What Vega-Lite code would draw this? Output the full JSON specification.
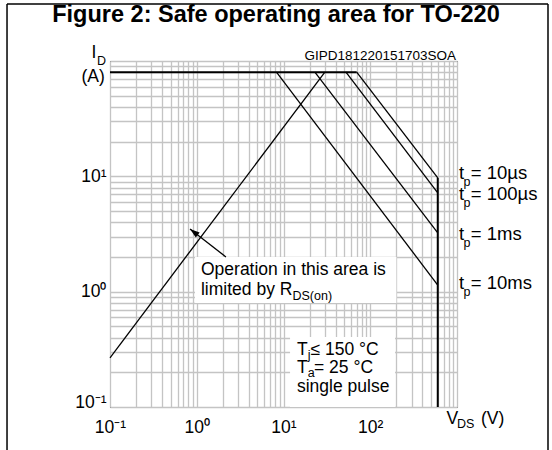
{
  "$schema": "https://vega.github.io/schema/vega-lite/v6.json",
  "width": 347,
  "height": 346,
  "autosize": {"type": "none"},
  "padding": {"left": 110, "top": 61, "right": 95, "bottom": 43},
  "background": "white",
  "datasets": {
    "curves": [
      {"series": "RDS(on)", "x": 0.1, "y": 0.267},
      {"series": "RDS(on)", "x": 30, "y": 80},
      {"series": "10ms", "x": 8.3, "y": 80},
      {"series": "10ms", "x": 600, "y": 1.14},
      {"series": "1ms", "x": 23, "y": 80},
      {"series": "1ms", "x": 600, "y": 3.23},
      {"series": "100µs", "x": 52.5, "y": 80},
      {"series": "100µs", "x": 600, "y": 7.18},
      {"series": "10µs", "x": 69.8, "y": 80},
      {"series": "10µs", "x": 600, "y": 9.7}
    ],
    "limits": [
      {"series": "ID max", "x": 0.1, "y": 80},
      {"series": "ID max", "x": 69.8, "y": 80},
      {"series": "VDS max", "x": 600, "y": 0.1},
      {"series": "VDS max", "x": 600, "y": 9.7}
    ],
    "boxes": [
      {"x": 0.955, "x2": 200, "y": 2.0, "y2": 0.798},
      {"x": 11.9, "x2": 193, "y": 0.405, "y2": 0.1}
    ],
    "arrow": [{"x": 2.17, "y": 2.0, "x2": 0.836, "y2": 3.49}],
    "arrowhead": [{"x": 0.836, "y": 3.49}],
    "frame": [
      {"x": 0.0065, "y": 312, "x2": 0.0065, "y2": 0.03},
      {"x": 0.0065, "y": 312, "x2": 11194, "y2": 312},
      {"x": 11194, "y": 312, "x2": 11194, "y2": 0.03}
    ],
    "heading": [{"x": 8.19, "y": 217.8, "text": "Figure 2: Safe operating area for TO-220"}],
    "maintext": [
      {"x": 0.0612, "y": 106.2, "text": "I"},
      {"x": 0.0469, "y": 65.8, "text": "(A)"},
      {"x": 757, "y": 0.0712, "text": "V"},
      {"x": 1891, "y": 0.0712, "text": "(V)"},
      {"x": 1.119, "y": 1.395, "text": "Operation in this area is"},
      {"x": 1.119, "y": 0.936, "text": "limited by R"},
      {"x": 14.3, "y": 0.2824, "text": "T"},
      {"x": 20.48, "y": 0.2824, "text": "≤ 150 °C"},
      {"x": 14.3, "y": 0.1971, "text": "T"},
      {"x": 22.47, "y": 0.1971, "text": "= 25 °C"},
      {"x": 14.3, "y": 0.1349, "text": "single pulse"}
    ],
    "pulsetext": [
      {"x": 1055, "y": 9.48, "text": "t"},
      {"x": 1442, "y": 9.48, "text": "= 10µs"},
      {"x": 1055, "y": 6.24, "text": "t"},
      {"x": 1442, "y": 6.24, "text": "= 100µs"},
      {"x": 1055, "y": 2.81, "text": "t"},
      {"x": 1442, "y": 2.81, "text": "= 1ms"},
      {"x": 1055, "y": 1.055, "text": "t"},
      {"x": 1442, "y": 1.055, "text": "= 10ms"}
    ],
    "subtext": [
      {"x": 0.0708, "y": 92.35, "text": "D"},
      {"x": 1000, "y": 0.0657, "text": "DS"},
      {"x": 1188, "y": 8.245, "text": "p"},
      {"x": 1188, "y": 5.423, "text": "p"},
      {"x": 1188, "y": 2.44, "text": "p"},
      {"x": 1188, "y": 0.917, "text": "p"},
      {"x": 12.7, "y": 0.8466, "text": "DS(on)"},
      {"x": 19.01, "y": 0.2607, "text": "j"},
      {"x": 19.01, "y": 0.182, "text": "a"}
    ],
    "code": [{"x": 1000, "y": 102, "text": "GIPD181220151703SOA"}]
  },
  "encoding": {
    "x": {
      "field": "x",
      "type": "quantitative",
      "scale": {"type": "log", "domain": [0.1, 1000], "nice": false},
      "axis": {
        "values": [0.1, 0.2, 0.3, 0.4, 0.5, 0.6, 0.7, 0.8, 0.9, 1, 2, 3, 4, 5, 6, 7, 8, 9, 10, 20, 30, 40, 50, 60, 70, 80, 90, 100, 200, 300, 400, 500, 600, 700, 800, 900, 1000],
        "labelExpr": "datum.value == 0.1 ? '10⁻¹' : datum.value == 1 ? '10⁰' : datum.value == 10 ? '10¹' : datum.value == 100 ? '10²' : ''",
        "labelPadding": 11
      }
    },
    "y": {
      "field": "y",
      "type": "quantitative",
      "scale": {"type": "log", "domain": [0.1, 100], "nice": false},
      "axis": {
        "values": [0.1, 0.2, 0.3, 0.4, 0.5, 0.6, 0.7, 0.8, 0.9, 1, 2, 3, 4, 5, 6, 7, 8, 9, 10, 20, 30, 40, 50, 60, 70, 80, 90, 100],
        "labelExpr": "datum.value == 0.1 ? '10⁻¹' : datum.value == 1 ? '10⁰' : datum.value == 10 ? '10¹' : ''",
        "labelPadding": 4,
        "labelBaseline": {"condition": {"test": "datum.value == 0.1", "value": "alphabetic"}, "value": "middle"}
      }
    }
  },
  "layer": [
    {
      "data": {"name": "boxes"},
      "mark": {"type": "rect", "fill": "white", "strokeWidth": 0, "clip": false},
      "encoding": {"x2": {"field": "x2"}, "y2": {"field": "y2"}}
    },
    {
      "data": {"name": "curves"},
      "mark": {"type": "line", "color": "black", "strokeWidth": 1.3, "clip": false},
      "encoding": {"detail": {"field": "series", "type": "nominal"}}
    },
    {
      "data": {"name": "limits"},
      "mark": {"type": "line", "color": "black", "strokeWidth": 2, "clip": false},
      "encoding": {"detail": {"field": "series", "type": "nominal"}}
    },
    {
      "data": {"name": "arrow"},
      "mark": {"type": "rule", "color": "black", "strokeWidth": 1.3, "clip": false},
      "encoding": {"x2": {"field": "x2"}, "y2": {"field": "y2"}}
    },
    {
      "data": {"name": "arrowhead"},
      "mark": {"type": "point", "shape": "M0,0L-0.45,1.4L0.45,1.4Z", "size": 196, "angle": 308, "filled": true, "color": "black", "opacity": 1, "clip": false},
      "encoding": {}
    },
    {
      "data": {"name": "heading"},
      "mark": {"type": "text", "font": "Liberation Sans", "fontSize": 23.5, "fontWeight": "bold", "color": "black", "align": "center", "baseline": "alphabetic", "clip": false},
      "encoding": {"text": {"field": "text"}}
    },
    {
      "data": {"name": "maintext"},
      "mark": {"type": "text", "font": "Liberation Sans", "fontSize": 17.5, "color": "black", "align": "left", "baseline": "alphabetic", "clip": false},
      "encoding": {"text": {"field": "text"}}
    },
    {
      "data": {"name": "pulsetext"},
      "mark": {"type": "text", "font": "Liberation Sans", "fontSize": 18.5, "color": "black", "align": "left", "baseline": "alphabetic", "clip": false},
      "encoding": {"text": {"field": "text"}}
    },
    {
      "data": {"name": "subtext"},
      "mark": {"type": "text", "font": "Liberation Sans", "fontSize": 12.5, "color": "black", "align": "left", "baseline": "alphabetic", "clip": false},
      "encoding": {"text": {"field": "text"}}
    },
    {
      "data": {"name": "code"},
      "mark": {"type": "text", "font": "Liberation Sans", "fontSize": 13.5, "color": "black", "align": "right", "baseline": "alphabetic", "dx": -1, "clip": false},
      "encoding": {"text": {"field": "text"}}
    },
    {
      "data": {"name": "frame"},
      "mark": {"type": "rule", "color": "black", "strokeWidth": 1.5, "clip": false},
      "encoding": {"x2": {"field": "x2"}, "y2": {"field": "y2"}}
    }
  ],
  "config": {
    "view": {"stroke": "black", "strokeWidth": 1},
    "font": "Liberation Sans",
    "axis": {
      "grid": true,
      "gridColor": "#c4c4c4",
      "gridWidth": 1.3,
      "ticks": false,
      "domain": false,
      "title": null,
      "labelFont": "Liberation Sans",
      "labelFontSize": 17.5,
      "labelColor": "black",
      "labelOverlap": false,
      "labelFlush": false
    }
  }
}
